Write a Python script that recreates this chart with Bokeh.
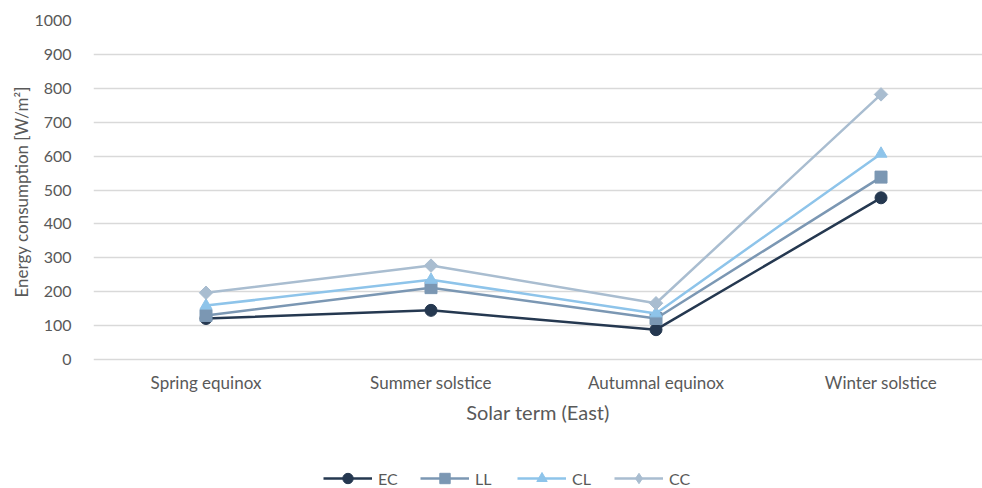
import math
from bokeh.plotting import figure
from bokeh.models import FixedTicker, Legend, LegendItem, Range1d, Title
from bokeh.embed import file_html
from bokeh.resources import INLINE

categories = ["Spring equinox", "Summer solstice", "Autumnal equinox", "Winter solstice"]
EC = [121, 145, 88, 477]
LL = [130, 212, 121, 538]
CL = [159, 235, 136, 607]
CC = [197, 277, 166, 782]
y_ticks = [0, 100, 200, 300, 400, 500, 600, 700, 800, 900, 1000]

series = [
    ("EC", EC, "#253850", "circle", 12, 0.0, "circle"),
    ("LL", LL, "#7b97b3", "square", 12, 0.0, "square"),
    ("CL", CL, "#8ec4ea", "triangle", 12, 0.0, "triangle"),
    ("CC", CC, "#a9bdd0", "square", 9.5, math.pi / 4, "diamond"),
]

FONT = "Lato"
TXT = "#595959"

# frame spans pixel rows 20..488; value 0 sits at row 359 (0.339 px per unit)
p = figure(width=982, height=488, output_backend="svg", toolbar_location=None,
           x_range=Range1d(-0.5, 3.451), y_range=Range1d(-380.5, 1000),
           min_border_left=93, min_border_right=0, min_border_top=20, min_border_bottom=0)
p.outline_line_color = None
p.background_fill_color = "white"
p.border_fill_color = "white"

xs = list(range(len(categories)))
items = []
for name, vals, color, marker, size, angle, leg_marker in series:
    r1 = p.line(xs, vals, line_color=color, line_width=2.5)
    r2 = p.scatter(xs, vals, marker=marker, size=size, angle=angle,
                   fill_color=color, line_color=color)
    if leg_marker != marker:
        # legend-only proxy (not drawn in the plot) so the legend shows a diamond
        r2 = p.scatter(x=[float("nan")], y=[float("nan")], marker=leg_marker, size=size,
                       fill_color=color, line_color=color)
    items.append(LegendItem(label=name, renderers=[r1, r2]))

p.xaxis.fixed_location = 0
p.xaxis.ticker = FixedTicker(ticks=xs)
p.xaxis.major_label_overrides = {i: c for i, c in enumerate(categories)}
p.xaxis.axis_label = "Solar term (East)"
p.yaxis.ticker = FixedTicker(ticks=y_ticks)

for ax in (p.xaxis, p.yaxis):
    ax.axis_line_color = None
    ax.major_tick_line_color = None
    ax.minor_tick_line_color = None
    ax.major_label_text_font = FONT
    ax.major_label_text_color = TXT
    ax.axis_label_text_font = FONT
    ax.axis_label_text_color = TXT
    ax.axis_label_text_font_style = "normal"

p.xaxis.major_label_text_font_size = "17px"
p.yaxis.major_label_text_font_size = "16px"
p.xaxis.axis_label_text_font_size = "20px"
p.xaxis.major_label_standoff = 6
p.xaxis.axis_label_standoff = 4
p.yaxis.major_label_standoff = 16

ytitle = Title(text="Energy consumption [W/m²]", align="left", offset=191,
               text_font=FONT, text_font_size="17px", text_font_style="normal",
               text_color=TXT, standoff=0)
p.add_layout(ytitle, "left")

p.xgrid.grid_line_color = None
p.ygrid.grid_line_color = "#d9d9d9"
p.ygrid.grid_line_width = 1.5

legend = Legend(items=items, orientation="horizontal", location=(230, -3),
                border_line_color=None, background_fill_alpha=0,
                padding=0, margin=0, spacing=22, glyph_width=49, glyph_height=26,
                label_height=26, label_standoff=6,
                label_text_font=FONT, label_text_color=TXT, label_text_font_size="16px")
p.add_layout(legend, "center")

open("out.html", "w").write(file_html(p, INLINE))
